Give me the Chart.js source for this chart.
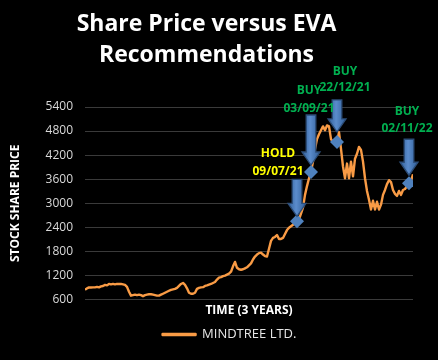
<!DOCTYPE html>
<html><head><meta charset="utf-8">
<script src="https://cdn.jsdelivr.net/npm/chart.js@4.4.1/dist/chart.umd.min.js"></script>
<style>html,body{margin:0;padding:0;background:#000;}canvas{display:block;}</style>
</head><body>
<canvas id="c" width="438" height="360"></canvas>
<script>
// ---- data ----
const prices = [
 844,880,905,900,905,905,917,905,930,940,966,954,990,978,990,978,990,990,990,978,
 966,917,795,698,710,722,710,722,710,685,710,722,734,734,722,710,698,698,722,746,
 771,795,820,844,856,868,893,941,990,1015,966,880,771,746,746,771,868,893,905,910,
 941,954,973,990,1015,1039,1100,1149,1161,1185,1198,1222,1246,1295,1429,1539,1393,1356,1344,1356,
 1380,1405,1454,1502,1600,1673,1722,1759,1771,1722,1685,1673,1868,2063,2137,2161,2210,2112,2112,2137,
 2234,2332,2393,2429,2466,2502,2550,2600,2746,2893,3210,3429,3624,3780,4039,4356,4600,4722,4820,4917,
 4820,4941,4917,4600,4527,4600,4530,4771,4356,3917,3624,3990,3624,4039,3673,4112,4234,4405,4332,4039,
 3624,3307,3088,2844,3063,2844,3039,2844,2966,3210,3332,3478,3576,3527,3332,3234,3185,3307,3210,3332,
 3356,3429,3500,3551,3722
];
const seriesName = 'MINDTREE LTD.';
const signalType = ['HOLD','BUY','BUY','BUY'];
const signalDate = ['09/07/21','03/09/21','22/12/21','02/11/22'];
const signalIndex = [106,113,126,162];
const signalPrice = [2550,3780,4530,3500];
const yTicks = [600,1200,1800,2400,3000,3600,4200,4800,5400];

// ---- styles (not data) ----
const arrowLen = [37,50,32,36];
const arrowGap = [5,7,10,8];
const labelDx = [-19,-2,8,-2];
const labelDy1 = [-68,-81,-70,-72];
const labelDy2 = [-50,-63,-54,-55];
const ORANGE = '#F99B45';

const annot = {
  id:'annot',
  afterDatasetsDraw(chart){
    const ctx = chart.ctx, xs = chart.scales.x, ys = chart.scales.y;
    signalIndex.forEach((idx,k)=>{
      const cx = xs.getPixelForValue(idx), cy = ys.getPixelForValue(signalPrice[k]);
      const tip = cy - arrowGap[k], top = tip - arrowLen[k];
      const sw = 4.8, hw = 9, hl = 13;
      ctx.save();
      const g = ctx.createLinearGradient(cx-hw,0,cx+hw,0);
      g.addColorStop(0,'#2f5d97'); g.addColorStop(0.45,'#5b8ccc'); g.addColorStop(1,'#2f5d97');
      ctx.beginPath();
      ctx.moveTo(cx-sw, top); ctx.lineTo(cx+sw, top); ctx.lineTo(cx+sw, tip-hl);
      ctx.lineTo(cx+hw, tip-hl); ctx.lineTo(cx, tip); ctx.lineTo(cx-hw, tip-hl);
      ctx.lineTo(cx-sw, tip-hl); ctx.closePath();
      ctx.fillStyle = g; ctx.fill();
      ctx.lineWidth = 1.3; ctx.strokeStyle = '#2c4d78'; ctx.stroke();
      ctx.restore();
    });
  },
  afterDraw(chart){
    const ctx = chart.ctx, xs = chart.scales.x, ys = chart.scales.y;
    signalIndex.forEach((idx,k)=>{
      const cx = xs.getPixelForValue(idx), cy = ys.getPixelForValue(signalPrice[k]);
      ctx.save();
      ctx.font = 'bold 12px "Open Sans"';
      ctx.textAlign = 'center'; ctx.textBaseline = 'middle';
      ctx.fillStyle = signalType[k] === 'HOLD' ? '#FFFF00' : '#00B050';
      ctx.fillText(signalType[k], cx + labelDx[k], cy + labelDy1[k]);
      ctx.fillText(signalDate[k], cx + labelDx[k], cy + labelDy2[k]);
      ctx.restore();
    });
  }
};
const legendShift = {
  id:'legendShift',
  afterLayout(chart){ const l = chart.legend; if(l){ l.left += 23; l.right += 23; } }
};

new Chart(document.getElementById('c'), {
  type:'line',
  data:{
    datasets:[
      { label:'signals', data: signalIndex.map((x,i)=>({x, y: signalPrice[i]})),
        showLine:false, pointStyle:'rectRot', pointRadius:7,
        pointBackgroundColor:'#4F81BD', pointBorderColor:'#4F81BD', pointBorderWidth:0, order:0 },
      { label: seriesName, data: prices.map((y,i)=>({x:i, y})),
        borderColor: ORANGE, backgroundColor: ORANGE, borderWidth:2.4, pointRadius:0,
        tension:0, borderJoinStyle:'round', order:1 }
    ]
  },
  options:{
    responsive:false, animation:false, devicePixelRatio:1,
    layout:{ padding:{ left:0, right:25, top:0, bottom:9 } },
    scales:{
      x:{ type:'linear', min:0, max:prices.length-1,
        ticks:{ display:false }, grid:{ display:false, drawTicks:false }, border:{ display:false },
        title:{ display:true, text:'TIME (3 YEARS)', color:'#ffffff',
          font:{ family:'Open Sans', size:12, weight:'bold' }, padding:{ top:4, bottom:4 } } },
      y:{ min:600, max:5400,
        afterBuildTicks: s => { s.ticks = yTicks.map(v=>({value:v})); },
        afterFit: s => { s.width = 85; },
        ticks:{ color:'#d9d9d9', font:{ family:'Open Sans', size:12 }, padding:12, autoSkip:false,
          callback: v => String(v) },
        grid:{ color:'#3a3a3a', lineWidth:1, drawTicks:false }, border:{ display:false },
        title:{ display:true, text:'STOCK SHARE PRICE', color:'#ffffff',
          font:{ family:'Open Sans', size:12, weight:'bold' }, padding:{ top:8, bottom:0 } } }
    },
    plugins:{
      title:{ display:true, text:['Share Price versus EVA','Recommendations'], color:'#ffffff',
        font:{ family:'Open Sans', size:23, weight:'bold', lineHeight:'31px' },
        padding:{ top:9, bottom:36 } },
      legend:{ position:'bottom',
        labels:{ color:'#e6e6e6', font:{ family:'Open Sans', size:13 }, boxWidth:33, boxHeight:1, padding:6,
          filter: item => item.datasetIndex === 1 } },
      tooltip:{ enabled:false }
    }
  },
  plugins:[annot, legendShift]
});
</script>
</body></html>
